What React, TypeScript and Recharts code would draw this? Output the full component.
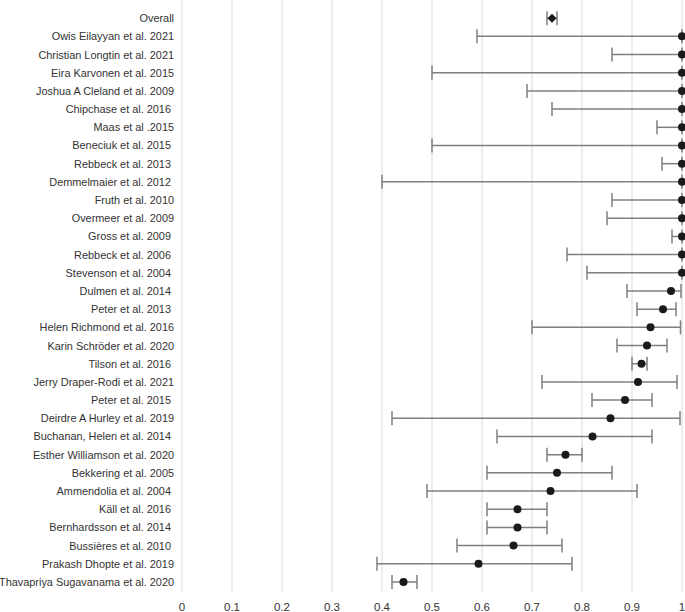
import React from 'react';
import { ScatterChart, Scatter, XAxis, YAxis, CartesianGrid, ErrorBar } from 'recharts';

const studyLabels = [
  'Overall',
  'Owis Eilayyan et al. 2021',
  'Christian Longtin et al. 2021',
  'Eira Karvonen et al. 2015',
  'Joshua A Cleland et al. 2009',
  'Chipchase et al. 2016 ',
  'Maas et al .2015',
  'Beneciuk et al. 2015 ',
  'Rebbeck et al. 2013 ',
  'Demmelmaier et al. 2012 ',
  'Fruth et al. 2010',
  'Overmeer et al. 2009',
  'Gross et al. 2009 ',
  'Rebbeck et al. 2006 ',
  'Stevenson et al. 2004 ',
  'Dulmen et al. 2014 ',
  'Peter et al. 2013 ',
  'Helen Richmond et al. 2016',
  'Karin Schröder et al. 2020',
  'Tilson et al. 2016 ',
  'Jerry Draper-Rodi et al. 2021',
  'Peter et al. 2015 ',
  'Deirdre A Hurley et al. 2019',
  'Buchanan, Helen et al. 2014 ',
  'Esther Williamson et al. 2020',
  'Bekkering et al. 2005',
  'Ammendolia et al. 2004 ',
  'Käll et al. 2016 ',
  'Bernhardsson et al. 2014 ',
  'Bussières et al. 2010 ',
  'Prakash Dhopte et al. 2019',
  'Thavapriya Sugavanama et al. 2020',
];

const estimates = [
  0.74, 1, 1, 1, 1, 1, 1, 1, 1, 1, 1, 1, 1, 1, 1,
  0.978, 0.962, 0.937, 0.93, 0.919, 0.912, 0.886, 0.857, 0.821, 0.767,
  0.75, 0.737, 0.671, 0.671, 0.663, 0.593, 0.443,
];

const lowerBounds = [
  0.73, 0.59, 0.86, 0.5, 0.69, 0.74, 0.95, 0.5, 0.96, 0.4, 0.86, 0.85, 0.98, 0.77, 0.81,
  0.89, 0.91, 0.7, 0.87, 0.9, 0.72, 0.82, 0.42, 0.63, 0.73,
  0.61, 0.49, 0.61, 0.61, 0.55, 0.39, 0.42,
];

const upperBounds = [
  0.75, 1, 1, 1, 1, 1, 1, 1, 1, 1, 1, 1, 1, 1, 1,
  0.998, 0.988, 0.997, 0.97, 0.93, 0.99, 0.94, 0.996, 0.94, 0.8,
  0.86, 0.91, 0.73, 0.73, 0.76, 0.78, 0.47,
];

const xTicks = [0, 0.1, 0.2, 0.3, 0.4, 0.5, 0.6, 0.7, 0.8, 0.9, 1];
const xTickLabels = ['0', '0.1', '0.2', '0.3', '0.4', '0.5', '0.6', '0.7', '0.8', '0.9', '1'];

const n = studyLabels.length;
const rows = studyLabels.map((label, i) => ({
  label,
  y: n - i,
  x: estimates[i],
  err: [estimates[i] - lowerBounds[i], upperBounds[i] - estimates[i]],
}));
const overallRows = rows.slice(0, 1);
const studyRows = rows.slice(1);
const yTicks = rows.map((r) => r.y);
const labelByY: Record<number, string> = {};
rows.forEach((r) => {
  labelByY[r.y] = r.label;
});

const textColor = '#333333';
const fontFamily = '"Liberation Sans", Arial, sans-serif';

const YTick = (props: any) => {
  const { x, y, payload } = props;
  return (
    <text
      x={x}
      y={y}
      textAnchor="end"
      dominantBaseline="central"
      fill={textColor}
      fontSize={10.9}
      fontFamily={fontFamily}
      style={{ whiteSpace: 'pre' }}
    >
      {labelByY[payload.value]}
    </text>
  );
};

const XTick = (props: any) => {
  const { x, y, payload } = props;
  const idx = xTicks.indexOf(payload.value);
  return (
    <text
      x={x}
      y={y + 4}
      textAnchor="middle"
      dominantBaseline="central"
      fill={textColor}
      fontSize={11.5}
      fontFamily={fontFamily}
    >
      {idx >= 0 ? xTickLabels[idx] : String(payload.value)}
    </text>
  );
};

const Dot = (props: any) => {
  const { cx, cy } = props;
  if (cx == null || cy == null) return null;
  return <circle cx={cx} cy={cy} r={4} fill="#1a1a1a" />;
};

const Diamond = (props: any) => {
  const { cx, cy } = props;
  if (cx == null || cy == null) return null;
  const s = 4.5;
  return (
    <path
      d={`M${cx},${cy - s} L${cx + s},${cy} L${cx},${cy + s} L${cx - s},${cy} Z`}
      fill="#1a1a1a"
    />
  );
};

export default function App() {
  return (
    <div style={{ position: 'absolute', left: 0, top: 0, width: 685, height: 612, background: '#fff' }}>
      <ScatterChart width={685} height={612} margin={{ top: 0, right: 3, bottom: 0, left: 0 }}>
        <CartesianGrid horizontal={false} vertical={true} stroke="#d9d9d9" strokeWidth={1} />
        <XAxis
          type="number"
          dataKey="x"
          domain={[0, 1]}
          ticks={xTicks}
          axisLine={false}
          tickLine={false}
          tickMargin={5}
          height={20}
          interval={0}
          tick={<XTick />}
        />
        <YAxis
          type="number"
          dataKey="y"
          domain={[0.45, 33]}
          ticks={yTicks}
          interval={0}
          width={182}
          axisLine={false}
          tickLine={false}
          tick={<YTick />}
        />
        <Scatter data={studyRows} shape={<Dot />} isAnimationActive={false}>
          <ErrorBar dataKey="err" direction="x" stroke="#7f7f7f" strokeWidth={1.5} width={7} />
        </Scatter>
        <Scatter data={overallRows} shape={<Diamond />} isAnimationActive={false}>
          <ErrorBar dataKey="err" direction="x" stroke="#7f7f7f" strokeWidth={1.5} width={7} />
        </Scatter>
      </ScatterChart>
    </div>
  );
}
